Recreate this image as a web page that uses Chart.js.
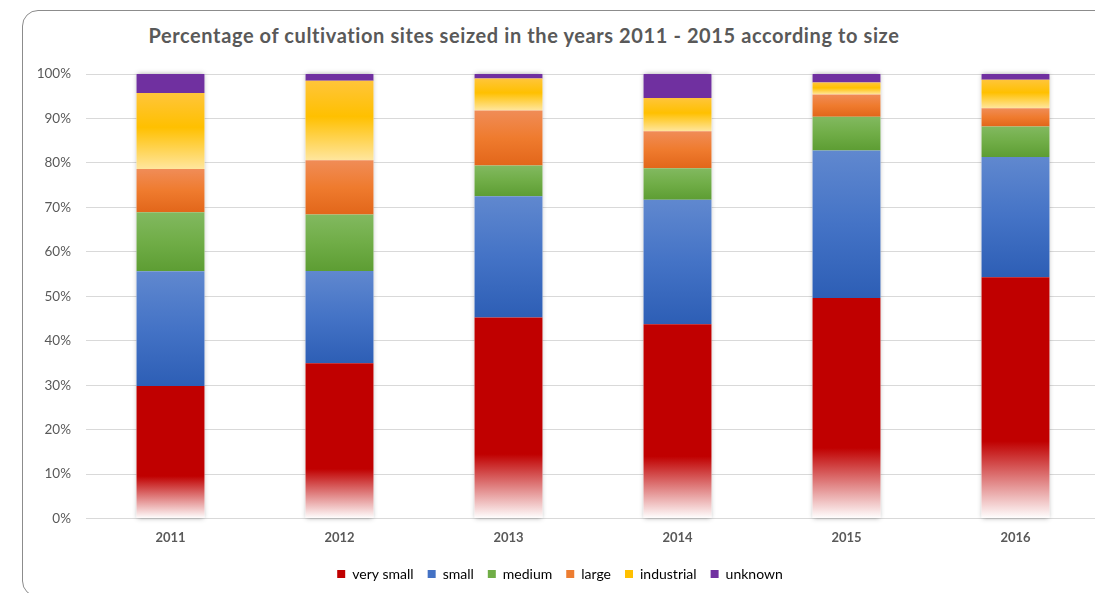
<!DOCTYPE html>
<html>
<head>
<meta charset="utf-8">
<script src="https://cdn.jsdelivr.net/npm/chart.js@4/dist/chart.umd.min.js"></script>
<style>
  html, body { margin: 0; padding: 0; background: #fff; overflow: hidden; width: 1095px; height: 593px; }
  #frame {
    position: absolute; left: 22px; top: 10px; width: 1200px; height: 587px;
    border: 1.5px solid #8c8c8c; border-radius: 16px; box-sizing: border-box;
  }
  #title {
    position: absolute; left: 0; width: 1048px; top: 23px; text-align: center;
    font-family: Lato, "Open Sans", sans-serif; font-weight: bold; font-size: 20px;
    letter-spacing: 0.6px; color: #595959;
  }
  #wrap { position: absolute; left: 0; top: 0; width: 1120px; height: 593px; }
</style>
</head>
<body>
<div id="frame"></div>
<div id="title">Percentage of cultivation sites seized in the years 2011 - 2015 according to size</div>
<div id="wrap"><canvas id="chart"></canvas></div>
<script>
// Categories and shares (%) per size class
const years = ['2011', '2012', '2013', '2014', '2015', '2016'];
const seriesNames = ['very small', 'small', 'medium', 'large', 'industrial', 'unknown'];
const verySmall  = [29.8, 34.9, 45.2, 43.7, 49.6, 54.3];
const small      = [25.8, 20.8, 27.3, 28.0, 33.2, 27.0];
const medium     = [13.3, 12.7,  6.9,  7.1,  7.6,  6.9];
const large      = [ 9.7, 12.2, 12.4,  8.3,  5.0,  4.1];
const industrial = [17.1, 17.9,  7.2,  7.5,  2.7,  6.4];
const unknown    = [ 4.3,  1.5,  1.0,  5.4,  1.9,  1.3];
const yTicks = [0, 10, 20, 30, 40, 50, 60, 70, 80, 90, 100];

const allSeries = [verySmall, small, medium, large, industrial, unknown];

// Solid swatch colour and vertical gradient stops (top -> bottom) per series
const solid = ['#C00000', '#4472C4', '#70AD47', '#ED7D31', '#FFC000', '#7030A0'];
const stops = [
  [[0, '#C00000'], [0.68, '#C00000'], [1, '#FFFFFF']],
  [[0, '#6088CF'], [0.5, '#4473C6'], [1, '#2D5EB5']],
  [[0, '#82B960'], [0.5, '#70AD47'], [1, '#5D9D33']],
  [[0, '#F08C57'], [0.5, '#EF7B2E'], [1, '#E2661A']],
  [[0, '#FFC53A'], [0.45, '#FFC000'], [1, '#FFE69E']],
  [[0, '#7030A0'], [1, '#7030A0']]
];

function segmentFill(context) {
  const s = context.datasetIndex;
  if (context.type !== 'data') return solid[s];
  const chart = context.chart;
  const y = chart.scales.y;
  if (!y || !chart.chartArea) return solid[s];
  const i = context.dataIndex;
  let start = 0;
  for (let k = 0; k < s; k++) start += allSeries[k][i];
  const end = start + allSeries[s][i];
  const yTop = y.getPixelForValue(end);
  const yBot = y.getPixelForValue(start);
  if (!isFinite(yTop) || !isFinite(yBot) || yBot - yTop < 0.5) return solid[s];
  const g = chart.ctx.createLinearGradient(0, yTop, 0, yBot);
  stops[s].forEach(([o, c]) => g.addColorStop(o, c));
  return g;
}

// Soft shadow behind each full stacked column
const columnShadow = {
  id: 'columnShadow',
  beforeDatasetsDraw(chart) {
    const first = chart.getDatasetMeta(0);
    const last = chart.getDatasetMeta(chart.data.datasets.length - 1);
    const ctx = chart.ctx;
    ctx.save();
    ctx.shadowColor = 'rgba(0,0,0,0.35)';
    ctx.shadowBlur = 5;
    ctx.fillStyle = '#ffffff';
    first.data.forEach((bar, i) => {
      const top = last.data[i];
      const w = bar.width;
      ctx.fillRect(bar.x - w / 2, top.y, w, bar.base - top.y);
    });
    ctx.restore();
  }
};

new Chart(document.getElementById('chart'), {
  type: 'bar',
  data: {
    labels: years,
    datasets: allSeries.map((vals, s) => ({
      label: seriesNames[s],
      data: vals,
      backgroundColor: segmentFill,
      borderWidth: 0,
      categoryPercentage: 1,
      barPercentage: 0.402
    }))
  },
  options: {
    responsive: true,
    maintainAspectRatio: false,
    animation: false,
    layout: { padding: { top: 74, right: 20, bottom: 2, left: 20 } },
    scales: {
      x: {
        stacked: true,
        grid: { display: false, drawTicks: false },
        border: { display: false },
        ticks: { color: '#595959', font: { family: 'Lato, "Open Sans", sans-serif', size: 13, weight: 'bold' }, padding: 12 },
        afterFit: (s) => { s.height = 34.5; }
      },
      y: {
        stacked: true,
        min: 0, max: 100,
        afterBuildTicks: (s) => { s.ticks = yTicks.map(v => ({ value: v })); },
        grid: { color: '#D9D9D9', lineWidth: 1, drawTicks: false },
        border: { display: false },
        ticks: {
          color: '#595959',
          font: { family: 'Lato, "Open Sans", sans-serif', size: 13.5 },
          padding: 15,
          callback: (v) => v + '%'
        },
        afterFit: (s) => { s.width = 66; }
      }
    },
    plugins: {
      title: { display: false },
      tooltip: { enabled: false },
      legend: {
        position: 'bottom',
        labels: {
          boxWidth: 8, boxHeight: 8, padding: 14,
          color: '#595959',
          font: { family: 'Lato, "Open Sans", sans-serif', size: 14 },
          generateLabels: (chart) => seriesNames.map((name, s) => ({
            text: name, fillStyle: solid[s], strokeStyle: solid[s], lineWidth: 0,
            hidden: false, datasetIndex: s
          }))
        }
      }
    }
  },
  plugins: [columnShadow]
});
</script>
</body>
</html>
